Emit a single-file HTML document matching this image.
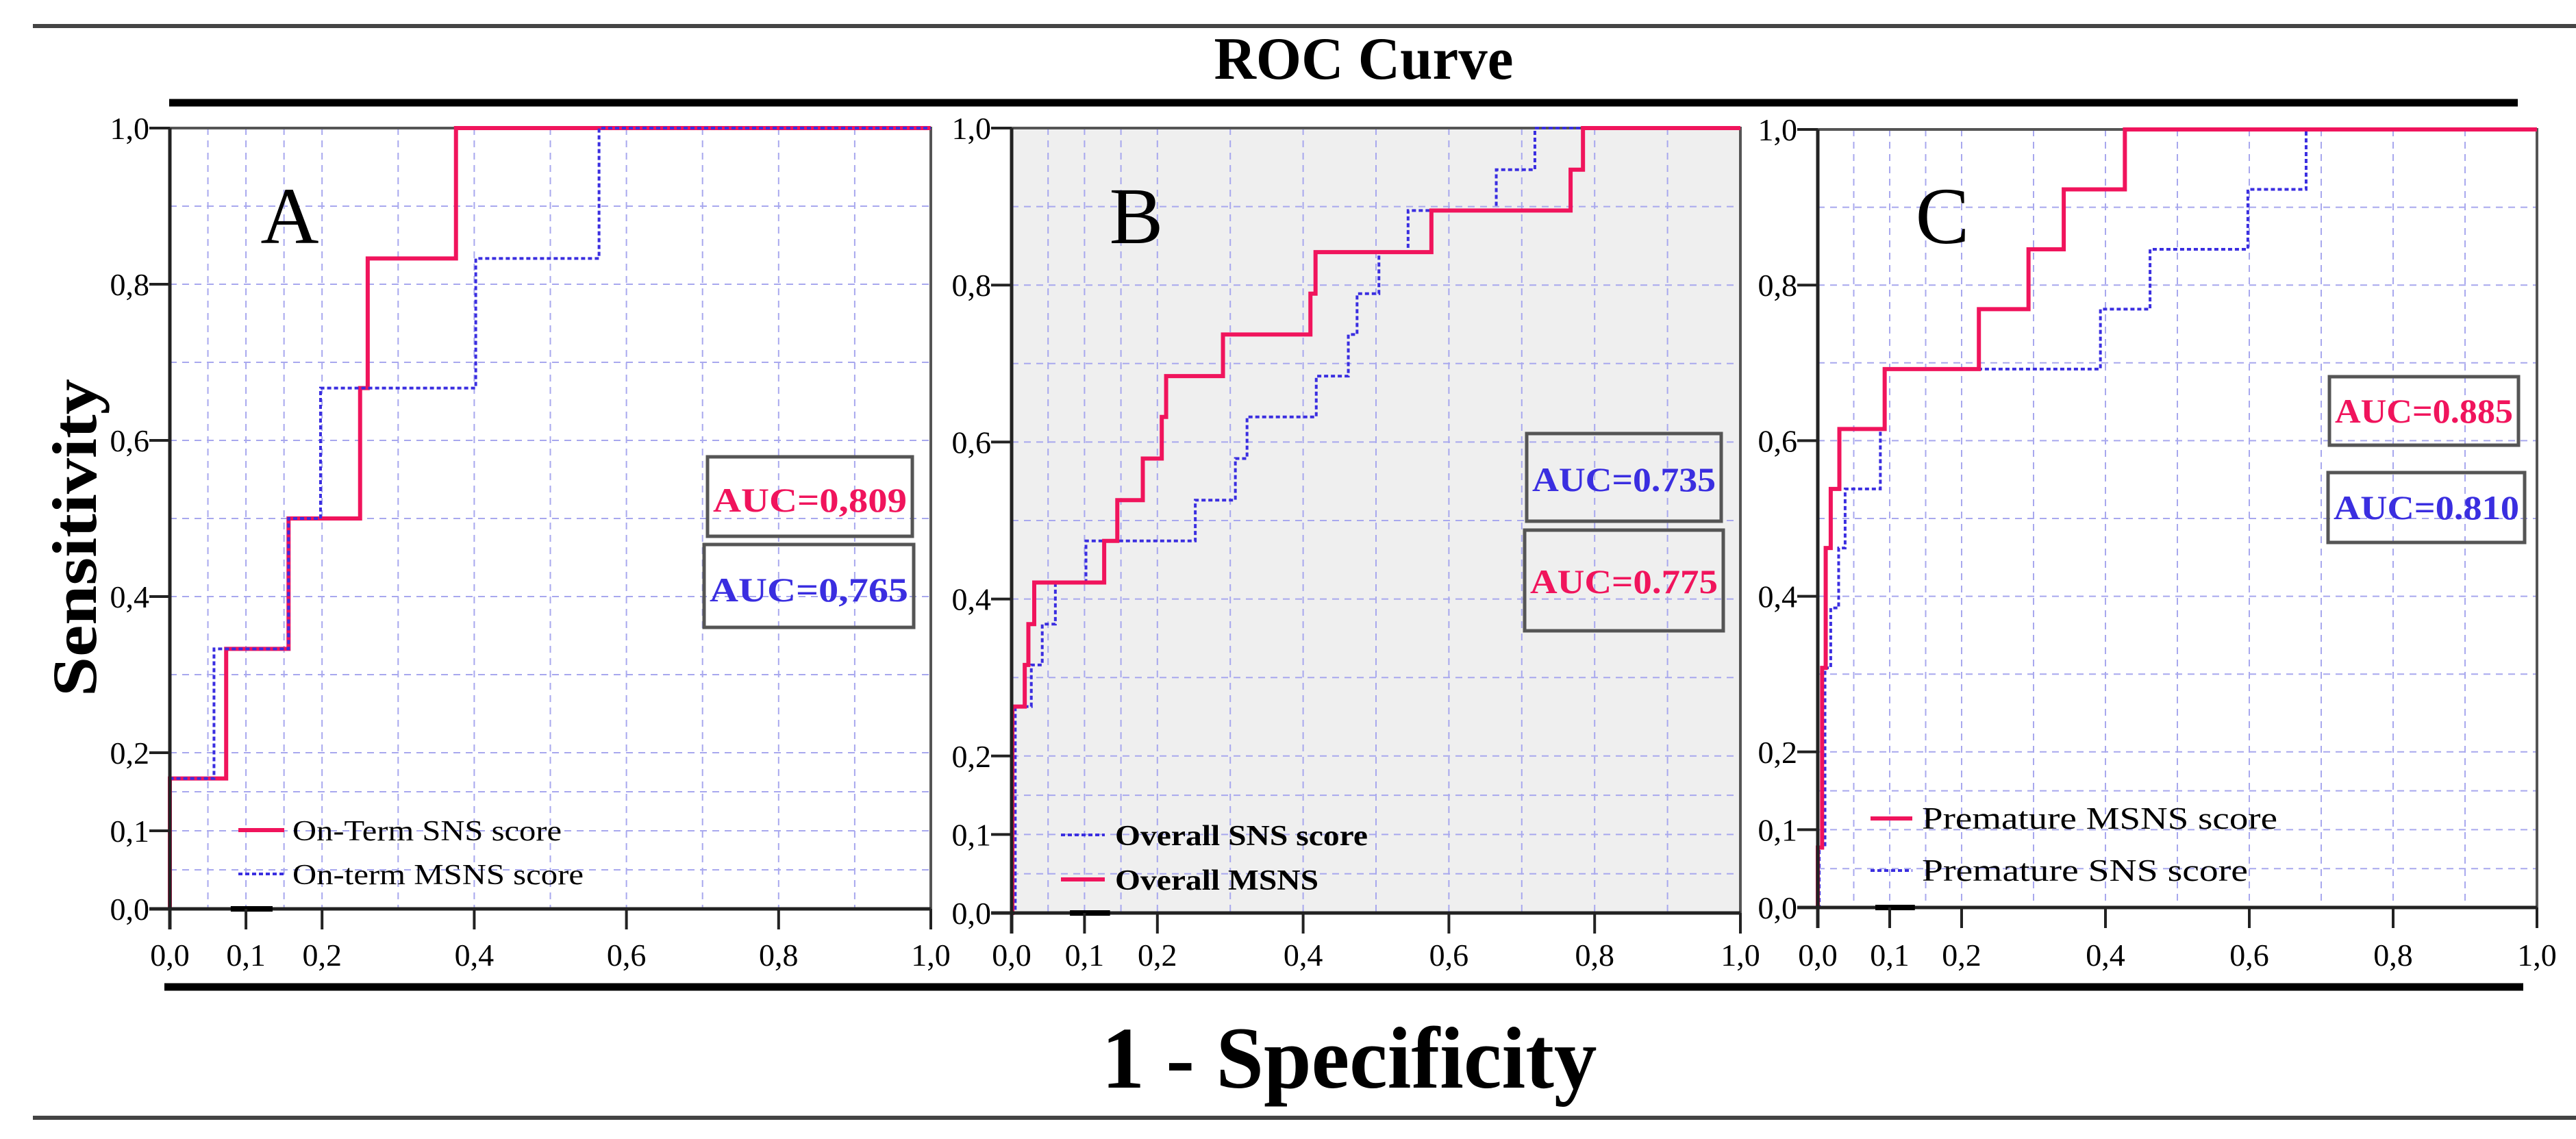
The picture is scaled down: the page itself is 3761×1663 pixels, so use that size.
<!DOCTYPE html>
<html><head><meta charset="utf-8"><style>
html,body{margin:0;padding:0;background:#fff;}
svg{display:block;}
text{font-family:"Liberation Serif",serif;}
</style></head>
<body>
<svg id="chart" xmlns="http://www.w3.org/2000/svg" width="3761" height="1663" viewBox="0 0 3761 1663">
  <rect x="0" y="0" width="3761" height="1663" fill="#fff"/>
  <line x1="48" y1="38" x2="3761" y2="38" stroke="#444" stroke-width="6"/>
  <text x="1991" y="115" font-size="88" font-weight="bold" text-anchor="middle" textLength="437" lengthAdjust="spacingAndGlyphs">ROC Curve</text>
  <line x1="247" y1="150" x2="3676" y2="150" stroke="#000" stroke-width="11"/>
  <line x1="240" y1="1441" x2="3684" y2="1441" stroke="#000" stroke-width="11"/>
  <text x="1970" y="1588" font-size="128" font-weight="bold" text-anchor="middle" textLength="723" lengthAdjust="spacingAndGlyphs">1 - Specificity</text>
  <line x1="48" y1="1632" x2="3761" y2="1632" stroke="#444" stroke-width="6"/>
  <text transform="translate(140,785) rotate(-90)" font-size="92" font-weight="bold" text-anchor="middle" textLength="464" lengthAdjust="spacingAndGlyphs">Sensitivity</text>
  <g id="panels"></g>
</svg>
<script>
// ---- Panel A data ----
const aRedFpr = [0, 0, 0.074, 0.156, 0.25, 0.26, 0.376, 1];
const aRedTpr = [0, 0.167, 0.333, 0.5, 0.667, 0.833, 1, 1];
const aBlueFpr = [0, 0, 0.058, 0.156, 0.198, 0.402, 0.564, 1];
const aBlueTpr = [0, 0.167, 0.333, 0.5, 0.667, 0.833, 1, 1];
// ---- Panel B data ----
const bRedFpr = [0, 0.001, 0.018, 0.023, 0.031, 0.127, 0.145, 0.18, 0.206, 0.212, 0.29, 0.41, 0.417, 0.576, 0.767, 0.784, 1];
const bRedTpr = [0, 0.263, 0.316, 0.368, 0.421, 0.474, 0.526, 0.579, 0.632, 0.684, 0.737, 0.789, 0.842, 0.895, 0.947, 1, 1];
const bBlueFpr = [0, 0.005, 0.027, 0.042, 0.06, 0.102, 0.252, 0.307, 0.323, 0.418, 0.462, 0.474, 0.504, 0.544, 0.665, 0.718, 1];
const bBlueTpr = [0, 0.263, 0.316, 0.368, 0.421, 0.474, 0.526, 0.579, 0.632, 0.684, 0.737, 0.789, 0.842, 0.895, 0.947, 1, 1];
// ---- Panel C data ----
const cRedFpr = [0, 0, 0.006, 0.011, 0.018, 0.03, 0.093, 0.224, 0.293, 0.342, 0.427, 1];
const cRedTpr = [0, 0.077, 0.308, 0.462, 0.538, 0.615, 0.692, 0.769, 0.846, 0.923, 1, 1];
const cBlueFpr = [0, 0.002, 0.01, 0.018, 0.029, 0.038, 0.087, 0.093, 0.393, 0.462, 0.598, 0.679, 1];
const cBlueTpr = [0, 0.077, 0.308, 0.385, 0.462, 0.538, 0.615, 0.692, 0.769, 0.846, 0.923, 1, 1];
// ---- ticks ----
const tickValues = [0, 0.1, 0.2, 0.4, 0.6, 0.8, 1.0];
const tickLabels = ["0,0", "0,1", "0,2", "0,4", "0,6", "0,8", "1,0"];
const gridValues = [0.05, 0.1, 0.15, 0.2, 0.3, 0.4, 0.5, 0.6, 0.7, 0.8, 0.9];
// ---- labels ----
const aucTexts = [["AUC=0,809", "AUC=0,765"], ["AUC=0.735", "AUC=0.775"], ["AUC=0.885", "AUC=0.810"]];
const legendTexts = [["On-Term SNS score", "On-term MSNS score"], ["Overall SNS score", "Overall MSNS"], ["Premature MSNS score", "Premature SNS score"]];

const RED = "#f0145c", BLUE = "#3a2ee0";
const NS = "http://www.w3.org/2000/svg";
const root = document.getElementById("panels");
function mk(tag, attrs, parent) {
  const e = document.createElementNS(NS, tag);
  for (const k in attrs) e.setAttribute(k, attrs[k]);
  (parent || root).appendChild(e);
  return e;
}

const panels = [
  {id: "a", letter: "A", x0: 248, x1: 1359, y0: 1327, y1: 187, bg: "#fff", letterX: 423,
   series: [[aRedFpr, aRedTpr, RED, false], [aBlueFpr, aBlueTpr, BLUE, true]],
   boxes: [[1033, 667, 299, 116, RED, 747], [1028, 795, 306, 121, BLUE, 878]],
   legend: {lx: 348, lw: 67, tx: 427, y1: 1212, y2: 1276, fs: 42, bold: false, tl: [393, 425], first: [RED, false], second: [BLUE, true]}},
  {id: "b", letter: "B", x0: 1477, x1: 2541, y0: 1333, y1: 187, bg: "#efefef", letterX: 1659,
   series: [[bBlueFpr, bBlueTpr, BLUE, true], [bRedFpr, bRedTpr, RED, false]],
   boxes: [[2229, 633, 284, 128, BLUE, 717], [2226, 774, 290, 147, RED, 866]],
   legend: {lx: 1549, lw: 64, tx: 1628, y1: 1219, y2: 1284, fs: 42, bold: true, tl: [369, 297], first: [BLUE, true], second: [RED, false]}},
  {id: "c", letter: "C", x0: 2654, x1: 3704, y0: 1325, y1: 189, bg: "#fff", letterX: 2836,
   series: [[cBlueFpr, cBlueTpr, BLUE, true], [cRedFpr, cRedTpr, RED, false]],
   boxes: [[3401, 550, 276, 100, RED, 617], [3399, 690, 287, 102, BLUE, 758]],
   legend: {lx: 2731, lw: 61, tx: 2806, y1: 1195, y2: 1271, fs: 46, bold: false, tl: [519, 476], first: [RED, false], second: [BLUE, true]}}
];

panels.forEach((p, pi) => {
  const sx = v => p.x0 + v * (p.x1 - p.x0);
  const sy = v => p.y0 - v * (p.y0 - p.y1);
  const g = mk("g", {});
  
  
  const bg = mk("rect", {x: p.x0, y: p.y1, width: p.x1 - p.x0, height: p.y0 - p.y1, fill: p.bg}, g);
  
  
  gridValues.forEach(v => {
    const gx = mk("line", {x1: sx(v), x2: sx(v), y1: p.y1, y2: p.y0, stroke: "#a8a8ee", "stroke-width": 2, "stroke-dasharray": "10 8"}, g);
    
    
    const gy = mk("line", {x1: p.x0, x2: p.x1, y1: sy(v), y2: sy(v), stroke: "#a8a8ee", "stroke-width": 2, "stroke-dasharray": "10 8"}, g);
    
    
  });
  const frame = mk("rect", {x: p.x0, y: p.y1, width: p.x1 - p.x0, height: p.y0 - p.y1, fill: "none", stroke: "#555", "stroke-width": 4}, g);
  
  
  const letter = mk("text", {x: p.letterX, y: 355, "font-size": 118, "text-anchor": "middle"}, g);
  letter.textContent = p.letter;
  
  
  p.series.forEach((s, si) => {
    const [fx, ty, col, dotted] = s;
    let d = "M" + sx(fx[0]) + "," + sy(ty[0]);
    for (let i = 1; i < fx.length; i++) d += " L" + sx(fx[i]) + "," + sy(ty[i - 1]) + " L" + sx(fx[i]) + "," + sy(ty[i]);
    const path = mk("path", {d: d, fill: "none", stroke: col, "stroke-width": dotted ? 4 : 6, "stroke-dasharray": dotted ? "6 4" : "none"}, g);
    
    
  });
  const xa = mk("line", {x1: p.x0 - 30, x2: p.x1, y1: p.y0, y2: p.y0, stroke: "#222", "stroke-width": 5}, g);
  
  
  const ya = mk("line", {x1: p.x0, x2: p.x0, y1: p.y1, y2: p.y0 + 30, stroke: "#222", "stroke-width": 5}, g);
  
  
  const seg = mk("line", {x1: sx(0.08), x2: sx(0.135), y1: p.y0, y2: p.y0, stroke: "#000", "stroke-width": 8}, g);
  
  
  tickValues.forEach((v, i) => {
    const tx = mk("line", {x1: sx(v), x2: sx(v), y1: p.y0, y2: p.y0 + 30, stroke: "#222", "stroke-width": 4}, g);
    
    
    const lx = mk("text", {x: sx(v), y: 1410, "font-size": 46, "text-anchor": "middle"}, g);
    lx.textContent = tickLabels[i];
    
    
    const ty = mk("line", {x1: p.x0 - 30, x2: p.x0, y1: sy(v), y2: sy(v), stroke: "#222", "stroke-width": 4}, g);
    
    
    const ly = mk("text", {x: p.x0 - 30, y: sy(v) + 16, "font-size": 46, "text-anchor": "end"}, g);
    ly.textContent = tickLabels[i];
    
    
  });
  p.boxes.forEach((b, bi) => {
    const [bx, by, bw, bh, col, base] = b;
    const r = mk("rect", {x: bx, y: by, width: bw, height: bh, fill: "none", stroke: "#555", "stroke-width": 5}, g);
    
    
    const t = mk("text", {x: bx + bw / 2, y: base, "font-size": 50, "font-weight": "bold", fill: col, "text-anchor": "middle", textLength: bw - 16, lengthAdjust: "spacingAndGlyphs"}, g);
    t.textContent = aucTexts[pi][bi];
    
    
  });
  const L = p.legend;
  [[L.y1, L.first, legendTexts[pi][0], L.tl[0]], [L.y2, L.second, legendTexts[pi][1], L.tl[1]]].forEach(e => {
    const [yy, st, txt, tl] = e;
    const ln = mk("line", {x1: L.lx, x2: L.lx + L.lw, y1: yy, y2: yy, stroke: st[0], "stroke-width": st[1] ? 4 : 6, "stroke-dasharray": st[1] ? "6 4" : "none"}, g);
    
    
    const t = mk("text", {x: L.tx, y: yy + 15, "font-size": L.fs, "font-weight": L.bold ? "bold" : "normal", textLength: tl, lengthAdjust: "spacingAndGlyphs"}, g);
    t.textContent = txt;
    
    
  });
});
</script>
</body></html>
